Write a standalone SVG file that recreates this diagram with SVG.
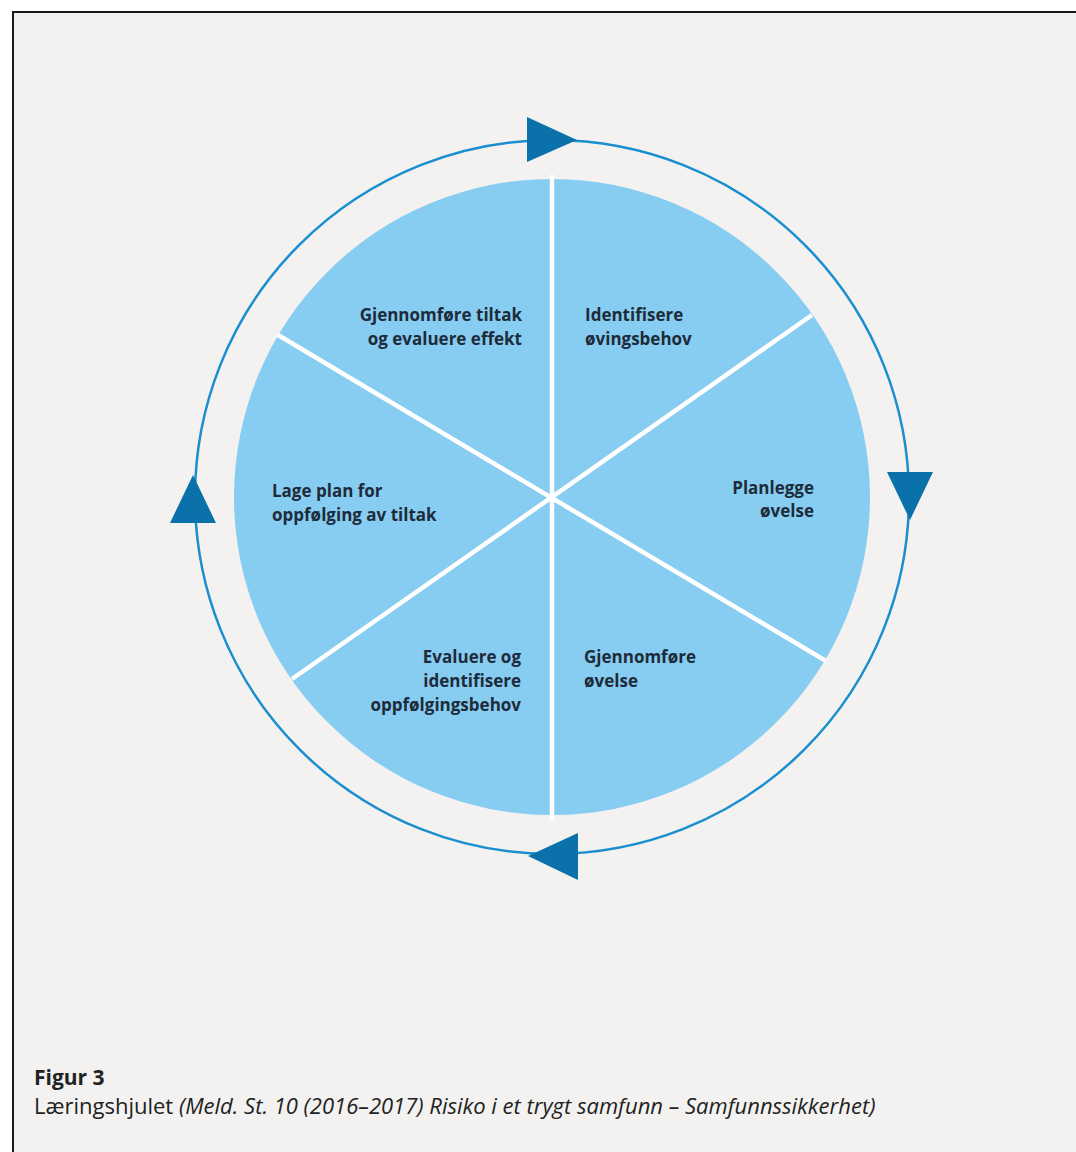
<svg xmlns="http://www.w3.org/2000/svg" width="1076" height="1152" viewBox="0 0 1076 1152">
<style>
.lbl{font-family:"Open Sans","Liberation Sans",sans-serif;font-weight:700;font-size:17px;fill:#1d2b3a}
.r{text-anchor:end}
.cap{font-family:"Open Sans","Liberation Sans",sans-serif;fill:#222}
.spoke{stroke:#ffffff;stroke-width:4.5;stroke-linecap:butt}
.ring{fill:none;stroke:#1a8fd0;stroke-width:2.5}
.arr{fill:#0a71aa}
</style>
<rect x="0" y="0" width="1076" height="1152" fill="#ffffff"/>
<rect x="13" y="12" width="1070" height="1150" fill="#f3f2f0" stroke="#1a1a1a" stroke-width="2"/>
<g id="connectors">
<circle class="ring" cx="552" cy="497" r="357"/>
<polygon class="arr" points="527,117 527,162 577,140"/>
<polygon class="arr" points="887,472 933,472 910,520"/>
<polygon class="arr" points="578,833 578,880 528,856"/>
<polygon class="arr" points="170,523 216,523 193,475"/>
</g>
<g id="wheel">
<circle cx="552" cy="497" r="318" fill="#87cdf1"/>
<line class="spoke" x1="552" y1="175" x2="552" y2="820"/>
<line class="spoke" x1="812" y1="315" x2="292" y2="679"/>
<line class="spoke" x1="278" y1="335" x2="826" y2="661"/>
</g>
<g id="node-gjennomfore-tiltak">
<text class="lbl r" x="522" y="321">Gjennomføre tiltak</text>
<text class="lbl r" x="522" y="345">og evaluere effekt</text>
</g>
<g id="node-identifisere">
<text class="lbl" x="585" y="321">Identifisere</text>
<text class="lbl" x="585" y="345">øvingsbehov</text>
</g>
<g id="node-planlegge">
<text class="lbl r" x="814" y="494">Planlegge</text>
<text class="lbl r" x="814" y="517">øvelse</text>
</g>
<g id="node-lage-plan">
<text class="lbl" x="272" y="497">Lage plan for</text>
<text class="lbl" x="272" y="521">oppfølging av tiltak</text>
</g>
<g id="node-evaluere">
<text class="lbl r" x="521" y="663">Evaluere og</text>
<text class="lbl r" x="521" y="687">identifisere</text>
<text class="lbl r" x="521" y="711">oppfølgingsbehov</text>
</g>
<g id="node-gjennomfore-ovelse">
<text class="lbl" x="584" y="663">Gjennomføre</text>
<text class="lbl" x="584" y="687">øvelse</text>
</g>
<text class="cap" x="34" y="1085" font-size="21" font-weight="700">Figur 3</text>
<text class="cap" x="34" y="1114" font-size="22">Læringshjulet <tspan font-style="italic">(Meld. St. 10 (2016–2017) Risiko i et trygt samfunn – Samfunnssikkerhet)</tspan></text>
</svg>
